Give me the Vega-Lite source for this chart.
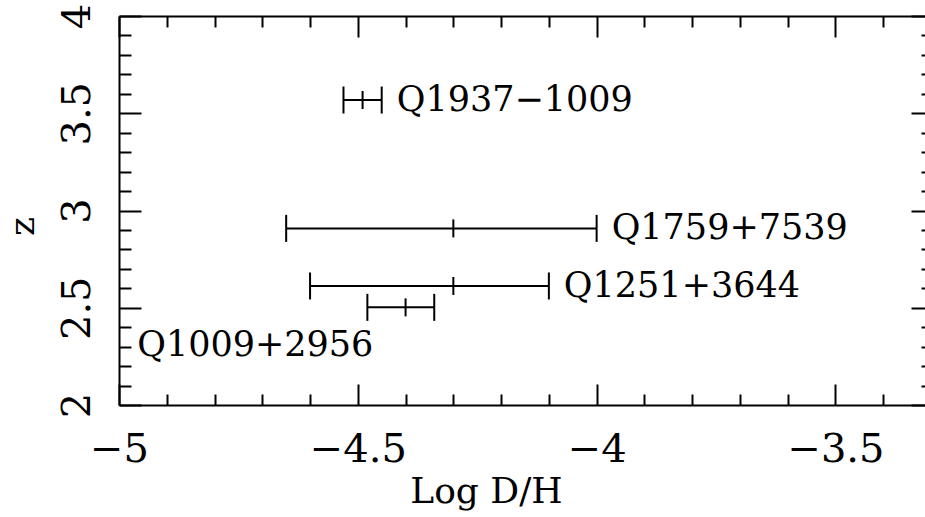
{
  "$schema": "https://vega.github.io/schema/vega-lite/v6.json",
  "width": 806,
  "height": 389,
  "autosize": {"type": "none"},
  "padding": {"left": 119, "top": 16, "right": 0, "bottom": 112},
  "background": "white",
  "config": {
    "view": {"stroke": "transparent"},
    "axis": {
      "grid": false,
      "labelFont": "DejaVu Serif",
      "labelFontSize": 40,
      "labelColor": "black",
      "titleFont": "DejaVu Serif",
      "titleFontWeight": "normal",
      "titleColor": "black",
      "domainColor": "black",
      "domainWidth": 2,
      "tickColor": "black",
      "tickWidth": 2,
      "labelFlush": false,
      "labelOverlap": false
    }
  },
  "data": {
    "values": [
      {"name": "Q1937−1009", "z": 3.568, "lo": -4.53, "mid": -4.49, "hi": -4.45},
      {"name": "Q1759+7539", "z": 2.908, "lo": -4.65, "mid": -4.30, "hi": -4.0},
      {"name": "Q1251+3644", "z": 2.612, "lo": -4.60, "mid": -4.30, "hi": -4.10},
      {"name": "Q1009+2956", "z": 2.502, "lo": -4.48, "mid": -4.40, "hi": -4.34}
    ]
  },
  "resolve": {"axis": {"x": "independent", "y": "independent"}},
  "layer": [
    {
      "mark": {"type": "rule", "color": "black", "strokeWidth": 2},
      "encoding": {
        "x": {"field": "lo", "type": "quantitative",
          "scale": {"domain": [-5, -3.3125], "nice": false, "zero": false},
          "axis": {"orient": "bottom", "title": "Log D/H", "titleFontSize": 36, "values": [-5, -4.5, -4, -3.5],
            "format": "~g", "ticks": false, "domain": true, "labelPadding": 56, "labelBaseline": "alphabetic",
            "labelAlign": "center", "titleX": 367, "titleY": 97, "titleAlign": "center", "titleBaseline": "alphabetic"}},
        "x2": {"field": "hi"},
        "y": {"field": "z", "type": "quantitative",
          "scale": {"domain": [2, 4], "nice": false, "zero": false},
          "axis": {"orient": "left", "title": "z", "titleFontSize": 36, "values": [2, 2.5, 3, 3.5, 4],
            "format": "~g", "ticks": false, "domain": true, "labelAngle": -90, "labelAlign": "center",
            "labelBaseline": "alphabetic", "labelPadding": 30, "titleAngle": -90, "titleX": -86, "titleY": 210,
            "titleAlign": "center", "titleBaseline": "alphabetic"}}
      }
    },
    {
      "mark": {"type": "tick", "orient": "vertical", "color": "black", "opacity": 1, "size": 27, "thickness": 2},
      "encoding": {
        "x": {"field": "lo", "type": "quantitative",
          "axis": {"orient": "bottom", "title": null, "labels": false, "domain": false, "tickSize": -21, "values": [-5, -4.5, -4, -3.5]}},
        "y": {"field": "z", "type": "quantitative",
          "axis": {"orient": "left", "title": null, "labels": false, "domain": false, "tickSize": -22, "values": [2, 2.5, 3, 3.5, 4]}}
      }
    },
    {
      "mark": {"type": "tick", "orient": "vertical", "color": "black", "opacity": 1, "size": 27, "thickness": 2},
      "encoding": {
        "x": {"field": "hi", "type": "quantitative",
          "axis": {"orient": "bottom", "title": null, "labels": false, "domain": false, "tickSize": -11,
            "values": [-4.9, -4.8, -4.7, -4.6, -4.4, -4.3, -4.2, -4.1, -3.9, -3.8, -3.7, -3.6, -3.4]}},
        "y": {"field": "z", "type": "quantitative",
          "axis": {"orient": "left", "title": null, "labels": false, "domain": false, "tickSize": -12,
            "values": [2.1, 2.2, 2.3, 2.4, 2.6, 2.7, 2.8, 2.9, 3.1, 3.2, 3.3, 3.4, 3.6, 3.7, 3.8, 3.9]}}
      }
    },
    {
      "mark": {"type": "tick", "orient": "vertical", "color": "black", "opacity": 1, "size": 18, "thickness": 2},
      "encoding": {
        "x": {"field": "mid", "type": "quantitative",
          "axis": {"orient": "top", "title": null, "labels": false, "domain": false, "tickSize": -21, "values": [-5, -4.5, -4, -3.5]}},
        "y": {"field": "z", "type": "quantitative",
          "axis": {"orient": "right", "offset": 8, "title": null, "labels": false, "domain": false, "tickSize": -22, "values": [2, 2.5, 3, 3.5, 4]}}
      }
    },
    {
      "transform": [{"filter": "datum.name !== 'Q1009+2956'"}],
      "mark": {"type": "text", "color": "black", "font": "DejaVu Serif", "fontSize": 35, "align": "left", "baseline": "middle", "dx": 15},
      "encoding": {
        "x": {"field": "hi", "type": "quantitative",
          "axis": {"orient": "top", "title": null, "labels": false, "domain": true, "tickSize": -11,
            "values": [-4.9, -4.8, -4.7, -4.6, -4.4, -4.3, -4.2, -4.1, -3.9, -3.8, -3.7, -3.6, -3.4]}},
        "y": {"field": "z", "type": "quantitative",
          "axis": {"orient": "right", "offset": 8, "title": null, "labels": false, "domain": false, "tickSize": -12,
            "values": [2.1, 2.2, 2.3, 2.4, 2.6, 2.7, 2.8, 2.9, 3.1, 3.2, 3.3, 3.4, 3.6, 3.7, 3.8, 3.9]}},
        "text": {"field": "name"}
      }
    },
    {
      "transform": [{"filter": "datum.name === 'Q1009+2956'"}],
      "mark": {"type": "text", "color": "black", "font": "DejaVu Serif", "fontSize": 35, "align": "right", "baseline": "middle", "dx": 6, "dy": 38},
      "encoding": {
        "x": {"field": "lo", "type": "quantitative", "axis": null},
        "y": {"field": "z", "type": "quantitative", "axis": null},
        "text": {"field": "name"}
      }
    }
  ]
}
